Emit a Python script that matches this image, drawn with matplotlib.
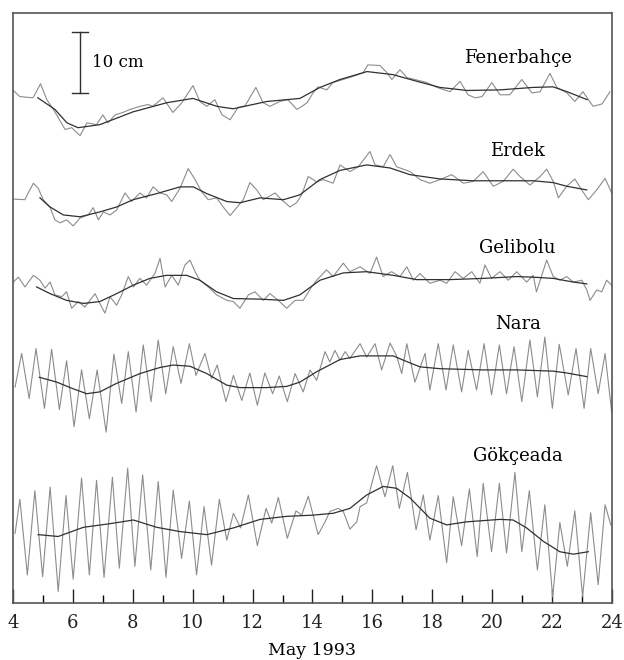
import matplotlib.pyplot as plt

# sea level records, May 1993 (day of month, cm relative to each station's mean)
stations = ["Fenerbahçe", "Erdek", "Gelibolu", "Nara", "Gökçeada"]

fen_raw_t = [4.01, 4.23, 4.67, 4.92, 5.13, 5.40, 5.74, 5.96, 6.24, 6.47, 6.79, 7.00, 7.17, 7.41,
             7.67, 7.91, 8.24, 8.51, 8.67, 9.01, 9.34, 9.64, 10.01, 10.24, 10.47, 10.74, 10.98,
             11.25, 11.51, 11.75, 12.11, 12.35, 12.58, 12.91, 13.18, 13.48, 13.65, 13.82, 14.02,
             14.18, 14.48, 14.68, 15.02, 15.35, 15.69, 15.85, 16.25, 16.49, 16.65, 16.92, 17.16,
             17.42, 17.82, 18.16, 18.59, 18.93, 19.19, 19.43, 19.66, 19.99, 20.26, 20.59, 20.99,
             21.33, 21.60, 21.93, 22.16, 22.50, 22.76, 23.03, 23.37, 23.67, 23.83, 23.93]
fen_raw_v = [1.5, 0.5, 0.3, 2.6, 0.0, -2.0, -4.9, -4.6, -5.9, -3.8, -4.1, -2.5, -3.8, -2.5,
             -2.1, -1.6, -1.1, -0.8, -1.1, 0.3, -2.1, -0.5, 2.3, -0.3, -1.1, 0.0, -2.5,
             -3.3, -1.3, -1.0, 2.0, -0.5, -1.1, -0.3, 0.0, -1.6, -1.1, -0.5, 1.1,
             2.1, 1.6, 2.8, 3.3, 3.8, 4.4, 5.7, 5.6, 4.4, 3.3, 4.9, 3.6,
             3.3, 2.8, 2.0, 1.3, 3.0, 0.8, 0.3, 0.5, 2.8, 0.8, 0.8, 3.3,
             1.1, 1.3, 4.3, 2.0, 1.1, -0.3, 1.3, -1.1, -0.7, 0.5, 1.3]
fen_smooth_t = [4.83, 5.40, 5.80, 6.17, 6.90, 8.01, 9.14, 10.01, 10.81, 11.35, 12.48, 13.58,
                14.25, 14.92, 15.82, 16.69, 17.49, 18.26, 19.16, 20.26, 21.36, 22.03, 22.50, 23.17]
fen_smooth_v = [0.3, -1.6, -3.8, -4.6, -4.1, -2.0, -0.5, 0.2, -1.1, -1.5, -0.3, 0.2,
                2.0, 3.3, 4.6, 4.1, 3.0, 2.0, 1.5, 1.6, 2.0, 2.1, 1.3, 0.0]

erd_raw_t = [4.01, 4.40, 4.51, 4.68, 4.84, 5.01, 5.24, 5.40, 5.57, 5.79, 6.01, 6.24, 6.51, 6.68,
             6.85, 7.02, 7.24, 7.46, 7.74, 7.96, 8.24, 8.46, 8.68, 8.91, 9.13, 9.30, 9.58, 9.85,
             10.08, 10.30, 10.52, 10.80, 11.02, 11.25, 11.47, 11.69, 11.91, 12.14, 12.36, 12.75,
             12.97, 13.25, 13.47, 13.64, 13.86, 14.14, 14.36, 14.69, 14.92, 15.25, 15.53, 15.92,
             16.09, 16.36, 16.59, 16.81, 17.26, 17.59, 17.92, 18.26, 18.65, 19.04, 19.37, 19.70,
             20.04, 20.37, 20.70, 20.93, 21.26, 21.60, 21.82, 22.04, 22.21, 22.49, 22.76, 22.99,
             23.21, 23.49, 23.77, 23.99]
erd_raw_v = [-0.7, -0.8, 0.3, 1.9, 1.1, -0.8, -2.1, -4.1, -4.6, -4.1, -5.1, -3.8, -3.3, -2.1,
             -4.1, -2.8, -3.3, -2.5, 0.3, -1.1, 0.3, -0.5, 1.3, 0.3, 0.0, -1.1, 1.1, 4.3,
             2.5, 0.5, -0.8, -0.5, -2.0, -3.4, -2.1, -0.8, 2.0, 0.8, -0.8, 0.3,
             -0.8, -2.0, -1.3, 0.0, 3.0, 2.1, 2.5, 1.9, 4.9, 3.8, 4.6, 7.1,
             4.9, 4.6, 6.6, 4.6, 3.8, 2.5, 1.9, 2.5, 3.3, 1.9, 2.2, 3.8,
             1.4, 2.2, 4.2, 3.0, 1.6, 3.0, 4.2, 2.2, -0.5, 1.4, 2.6, 0.8,
             -0.8, 0.8, 2.7, 0.3]
erd_smooth_t = [4.90, 5.24, 5.68, 6.24, 6.90, 7.46, 8.01, 8.80, 9.58, 10.02, 10.47, 11.14, 11.58,
                12.25, 13.03, 13.58, 14.25, 14.92, 15.81, 16.59, 17.26, 18.26, 19.37, 20.48,
                21.37, 22.04, 22.49, 23.16]
erd_smooth_v = [-0.5, -2.0, -3.3, -3.6, -2.8, -2.0, -0.8, 0.2, 1.3, 1.3, 0.2, -1.1, -1.3,
                -0.5, -0.8, 0.0, 2.5, 4.0, 4.9, 4.4, 3.3, 2.6, 2.3, 2.3,
                2.3, 2.0, 1.4, 0.8]

gel_raw_t = [4.01, 4.18, 4.40, 4.68, 4.90, 5.07, 5.24, 5.40, 5.63, 5.79, 5.96, 6.18, 6.40, 6.57,
             6.74, 6.90, 7.07, 7.24, 7.46, 7.63, 7.85, 8.02, 8.24, 8.46, 8.74, 8.91, 9.08, 9.30,
             9.52, 9.74, 9.91, 10.08, 10.24, 10.52, 10.80, 11.14, 11.36, 11.58, 11.86, 12.08,
             12.36, 12.58, 12.86, 13.14, 13.42, 13.69, 13.97, 14.14, 14.47, 14.69, 15.03, 15.25,
             15.59, 15.92, 16.14, 16.36, 16.64, 16.92, 17.15, 17.37, 17.59, 17.92, 18.26, 18.48,
             18.76, 19.03, 19.32, 19.59, 19.76, 19.98, 20.26, 20.54, 20.82, 21.15, 21.37, 21.48,
             21.82, 22.04, 22.26, 22.49, 22.71, 22.99, 23.16, 23.27, 23.49, 23.66, 23.82, 23.99]
gel_raw_v = [0.5, 1.3, -0.3, 1.6, 0.8, -0.5, 0.5, -1.6, -1.9, -1.1, -3.8, -2.7, -3.6, -2.5,
             -1.4, -3.0, -4.6, -1.9, -3.3, -1.6, 1.4, -0.3, 1.1, 0.0, 1.9, 4.4, -0.3, 1.6,
             0.0, 3.3, 4.1, 2.2, 0.8, -0.3, -1.6, -2.5, -2.7, -3.8, -1.6, -1.1,
             -2.5, -1.4, -2.5, -3.8, -2.5, -2.5, -0.3, 0.8, 2.5, 1.4, 3.6, 2.2,
             3.0, 1.9, 4.6, 1.4, 2.2, 1.4, 3.0, 0.8, 1.9, 0.3, 0.8, 0.3,
             2.2, 1.1, 2.2, 0.3, 3.3, 1.1, 2.2, 0.8, 2.2, 0.5, 1.6, -1.1,
             4.1, 1.4, 0.8, 1.4, 0.5, 0.8, -0.8, -2.5, -0.8, -1.1, 0.8, 0.0]
gel_smooth_t = [4.79, 5.24, 5.79, 6.35, 6.90, 7.46, 8.02, 8.57, 9.13, 9.80, 10.24, 10.80, 11.36,
                12.25, 13.03, 13.58, 14.25, 15.03, 15.81, 16.70, 17.48, 18.59, 19.70, 20.82,
                21.37, 22.04, 22.71, 23.16]
gel_smooth_v = [-0.3, -1.4, -2.5, -3.0, -2.7, -1.4, 0.0, 1.1, 1.6, 1.6, 0.8, -1.1, -2.2,
                -2.3, -2.5, -1.6, 0.8, 2.0, 2.2, 1.6, 0.9, 0.9, 1.1, 1.4,
                1.3, 1.1, 0.5, 0.2]

nar_raw_t = [4.07, 4.29, 4.54, 4.77, 5.05, 5.29, 5.55, 5.79, 6.04, 6.29, 6.55, 6.81, 7.11, 7.37,
             7.63, 7.85, 8.11, 8.35, 8.61, 8.85, 9.10, 9.35, 9.61, 9.89, 10.11, 10.41, 10.63,
             10.82, 11.11, 11.36, 11.64, 11.91, 12.16, 12.41, 12.67, 12.89, 13.16, 13.42, 13.69,
             13.92, 14.14, 14.42, 14.58, 14.75, 14.92, 15.09, 15.25, 15.59, 15.81, 16.09, 16.31,
             16.59, 16.81, 16.98, 17.15, 17.42, 17.76, 17.92, 18.20, 18.46, 18.70, 18.98, 19.20,
             19.48, 19.73, 19.98, 20.24, 20.48, 20.73, 20.99, 21.26, 21.51, 21.76, 22.01, 22.24,
             22.54, 22.80, 23.07, 23.29, 23.54, 23.77, 23.99]
nar_raw_v = [-0.3, 5.2, -2.2, 6.0, -3.8, 5.9, -4.0, 4.0, -6.8, 2.5, -5.5, 2.5, -7.7, 5.1,
             -3.0, 5.5, -4.4, 6.6, -2.7, 7.4, -1.4, 6.3, 0.3, 6.8, 1.6, 5.2, 1.1,
             3.3, -2.7, 1.6, -2.5, 2.0, -3.3, 2.0, -1.4, 1.5, -2.7, 1.9, -1.1,
             2.5, 0.8, 5.5, 3.8, 5.7, 4.1, 5.5, 4.4, 6.8, 4.6, 6.8, 2.5,
             6.9, 4.8, 1.9, 6.8, 0.5, 5.2, -0.8, 6.8, -0.8, 6.6, -1.1, 5.7,
             -0.8, 6.8, -1.6, 6.6, -1.4, 6.3, -2.7, 7.4, -1.9, 7.9, -3.8, 6.7,
             -1.6, 6.0, -3.8, 6.0, -1.4, 5.2, -4.4]
nar_smooth_t = [4.88, 5.46, 5.96, 6.46, 6.90, 7.46, 8.24, 8.91, 9.35, 9.91, 10.47, 11.14, 11.58,
                12.47, 13.14, 13.58, 14.14, 14.92, 15.59, 16.70, 17.03, 17.59, 18.26, 19.70,
                20.82, 22.04, 22.49, 23.16]
nar_smooth_v = [1.3, 0.5, -0.5, -1.4, -1.1, 0.3, 1.9, 2.9, 3.3, 3.1, 1.9, 0.0, -0.4,
                -0.4, -0.2, 0.5, 2.2, 4.2, 4.8, 4.8, 4.1, 3.0, 2.7, 2.5,
                2.5, 2.3, 2.0, 1.4]

gok_raw_t = [4.07, 4.23, 4.48, 4.73, 4.99, 5.24, 5.51, 5.77, 6.01, 6.29, 6.55, 6.79, 7.04, 7.32,
             7.55, 7.83, 8.07, 8.33, 8.60, 8.85, 9.11, 9.35, 9.63, 9.89, 10.13, 10.38, 10.63,
             10.89, 11.14, 11.36, 11.60, 11.86, 12.16, 12.45, 12.64, 12.86, 13.16, 13.45, 13.64,
             13.86, 14.19, 14.42, 14.58, 14.86, 15.03, 15.25, 15.48, 15.59, 15.81, 16.14, 16.42,
             16.68, 16.90, 17.17, 17.46, 17.70, 17.92, 18.20, 18.48, 18.70, 18.98, 19.24, 19.50,
             19.70, 19.98, 20.24, 20.48, 20.76, 20.99, 21.24, 21.51, 21.76, 22.02, 22.26, 22.51,
             22.76, 23.02, 23.29, 23.54, 23.77, 23.96]
gok_raw_v = [-1.4, 4.2, -8.2, 5.6, -8.5, 6.2, -10.9, 4.8, -8.9, 7.7, -8.2, 7.3, -8.6, 7.8,
             -7.1, 9.3, -6.8, 8.2, -7.4, 7.1, -8.6, 5.7, -5.5, 3.9, -8.2, 3.0, -6.6,
             4.2, -2.5, 1.9, -0.5, 4.9, -3.4, 2.7, 0.3, 4.5, -2.2, 2.3, 1.6,
             4.7, -1.6, 0.5, 2.2, 2.7, 2.2, -0.7, 0.5, 3.0, 3.6, 9.7, 4.6,
             9.7, 2.7, 8.6, -0.8, 4.9, -2.5, 4.8, -6.2, 4.6, -3.4, 5.9, -5.2,
             6.8, -4.4, 6.8, -4.6, 8.6, -4.4, 5.6, -7.4, 3.3, -11.8, 0.4, -6.8,
             2.3, -11.8, 2.0, -9.8, 3.3, 0.0]
gok_smooth_t = [4.84, 5.51, 6.35, 7.24, 8.02, 8.80, 9.58, 10.47, 11.36, 12.25, 13.14, 14.03,
                14.69, 15.25, 15.81, 16.36, 16.81, 17.26, 17.92, 18.48, 19.15, 20.26, 20.70,
                21.15, 21.71, 22.26, 22.71, 23.21]
gok_smooth_v = [-1.6, -1.9, -0.4, 0.2, 0.8, -0.4, -1.1, -1.6, -0.5, 0.9, 1.4, 1.6,
                1.9, 2.7, 4.9, 6.3, 6.0, 4.4, 1.1, 0.0, 0.5, 0.9, 0.8,
                -0.5, -2.7, -4.4, -4.8, -4.4]

raw_t = [fen_raw_t, erd_raw_t, gel_raw_t, nar_raw_t, gok_raw_t]
raw_v = [fen_raw_v, erd_raw_v, gel_raw_v, nar_raw_v, gok_raw_v]
smooth_t = [fen_smooth_t, erd_smooth_t, gel_smooth_t, nar_smooth_t, gok_smooth_t]
smooth_v = [fen_smooth_v, erd_smooth_v, gel_smooth_v, nar_smooth_v, gok_smooth_v]

# vertical offset (cm) used to stack the records, and where each name sits
offsets = [82.5, 66.9, 52.1, 35.7, 12.8]
label_y = [89.3, 74.1, 58.2, 45.7, 24.1]
label_x = 20.85

plt.rcParams['font.family'] = 'DejaVu Serif'

fig = plt.figure(figsize=(6.24, 6.6), dpi=100)
ax = fig.add_axes([0.0208, 0.0864, 0.9599, 0.8939])

for i in range(len(stations)):
    y_raw = [v + offsets[i] for v in raw_v[i]]
    y_smooth = [v + offsets[i] for v in smooth_v[i]]
    ax.plot(raw_t[i], y_raw, color="#8c8c8c", linewidth=0.8)
    ax.plot(smooth_t[i], y_smooth, color="#303030", linewidth=0.9)
    ax.text(label_x, label_y[i], stations[i], ha="center", va="center", fontsize=13)

# 10 cm scale bar
bar_x = 6.24
bar_bottom = 83.6
ax.plot([bar_x, bar_x], [bar_bottom, bar_bottom + 10], color="#303030", linewidth=1.0)
ax.plot([bar_x - 0.27, bar_x + 0.27], [bar_bottom, bar_bottom], color="#303030", linewidth=1.0)
ax.plot([bar_x - 0.27, bar_x + 0.27], [bar_bottom + 10, bar_bottom + 10], color="#303030", linewidth=1.0)
ax.text(bar_x + 0.4, bar_bottom + 5, "10 cm", ha="left", va="center", fontsize=12)

ax.set_xlim(4, 24)
ax.set_ylim(0, 96.7)
ax.set_xticks(range(4, 25, 2))
ax.set_xticks(range(5, 24, 2), minor=True)
ax.set_yticks([])
ax.tick_params(axis="x", which="major", direction="in", length=10, width=1.0,
               labelsize=13, pad=8, colors="#222222")
ax.tick_params(axis="x", which="minor", direction="in", length=5.5, width=1.0)
for s in ax.spines.values():
    s.set_color("#555555")
    s.set_linewidth(1.2)
ax.set_xlabel("May 1993", fontsize=12.5, labelpad=7)

plt.savefig("out.png", dpi=100)
